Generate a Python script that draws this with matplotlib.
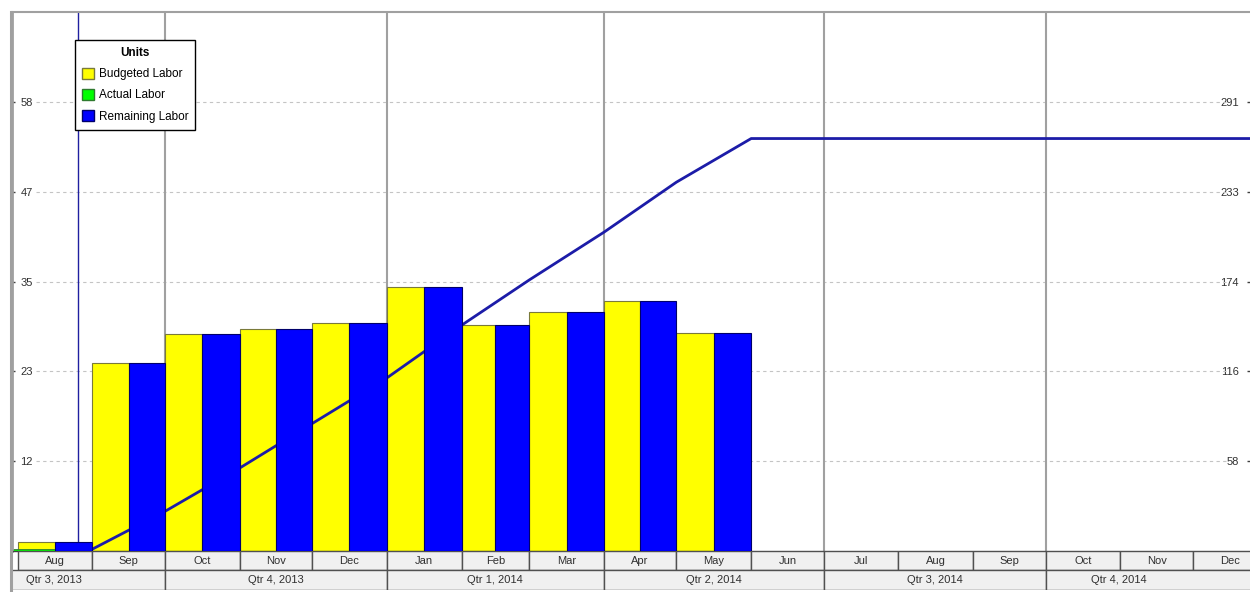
import matplotlib.pyplot as plt
import matplotlib.dates as mdates
import numpy as np
import pandas as pd
from matplotlib.patches import Patch, Rectangle
from matplotlib.lines import Line2D

plt.rcParams['font.family'] = ['Liberation Sans', 'DejaVu Sans']

# monthly labor units (left axis)
bar_months = ['2013-08-01', '2013-09-01', '2013-10-01', '2013-11-01', '2013-12-01',
              '2014-01-01', '2014-02-01', '2014-03-01', '2014-04-01', '2014-05-01']
budgeted_labor = [1.2, 24.4, 28.1, 28.8, 29.6, 34.2, 29.3, 31.0, 32.4, 28.3]
remaining_labor = [1.2, 24.4, 28.1, 28.8, 29.6, 34.2, 29.3, 31.0, 32.4, 28.3]
actual_labor = [0.25]
actual_start = '2013-07-29'
data_date = '2013-08-26'

# axis ticks
left_ticks = [11.64, 23.28, 34.92, 46.56, 58.2]
left_labels = ['12', '23', '35', '47', '58']
right_ticks = [58.2, 116.4, 174.6, 232.8, 291.0]
right_labels = ['58', '116', '174', '233', '291']
left_max = 69.86
right_scale = 5.0   # cumulative axis units per left axis unit

# timescale
view_start = pd.Timestamp('2013-07-29 17:00')
view_end = pd.Timestamp('2014-12-24 17:00')
scale_finish = pd.Timestamp('2014-12-01')
scale_months = pd.date_range('2013-08-01', '2014-12-01', freq='MS')
quarter_starts = ['2013-07-01', '2013-10-01', '2014-01-01', '2014-04-01', '2014-07-01', '2014-10-01']
quarter_labels = ['Qtr 3, 2013', 'Qtr 4, 2013', 'Qtr 1, 2014', 'Qtr 2, 2014', 'Qtr 3, 2014', 'Qtr 4, 2014']

YELLOW, YELLOW_EDGE = '#ffff00', '#7a7a3a'
GREEN, GREEN_EDGE = '#00ff00', '#2f7a2f'
BLUE, BLUE_EDGE = '#0000ff', '#00006a'
LINE = '#1c1ca8'
GRAY = '#a0a0a0'

W, H = 1250, 592
fig = plt.figure(figsize=(W / 100, H / 100), dpi=100)
ax = fig.add_axes([12 / W, 41 / H, 1238 / W, 539 / H])
hdr = fig.add_axes([12 / W, 2 / H, 1238 / W, 39 / H])

x0 = mdates.date2num(view_start)
x1 = mdates.date2num(view_end)

# bars: budgeted in the first half of each month, remaining in the second
starts = pd.to_datetime(bar_months)
ends = starts + pd.offsets.MonthBegin(1)
s_num = mdates.date2num(starts)
half = (mdates.date2num(ends) - s_num) / 2
ax.bar(s_num, budgeted_labor, width=half, align='edge', color=YELLOW,
       edgecolor=YELLOW_EDGE, linewidth=0.8, zorder=2)
ax.bar(s_num + half, remaining_labor, width=half, align='edge', color=BLUE,
       edgecolor=BLUE_EDGE, linewidth=0.8, zorder=4)
a0 = mdates.date2num(pd.Timestamp(actual_start))
a1 = mdates.date2num(pd.Timestamp(data_date))
ax.bar([a0], actual_labor, width=a1 - a0, align='edge', color=GREEN,
       edgecolor=GREEN_EDGE, linewidth=0.6, zorder=2.5)

# cumulative remaining labor (right axis), flat after the last month
cum = np.cumsum(remaining_labor)
line_x = [mdates.date2num(pd.Timestamp(data_date))] + list(mdates.date2num(ends)) + [x1]
line_y = [0.0] + list(cum) + [cum[-1]]
ax.plot(line_x, np.array(line_y) / right_scale, color=LINE, lw=2, zorder=3,
        solid_capstyle='butt')

# quarter dividers and data date
for q in quarter_starts[1:]:
    ax.axvline(mdates.date2num(pd.Timestamp(q)), color=GRAY, lw=1.5, zorder=1.5)
ax.axvline(mdates.date2num(pd.Timestamp(data_date)), color='#2020a0', lw=1, zorder=1.6)

# dashed grid between the tick labels
for y in left_ticks:
    ax.axhline(y, xmin=0.019, xmax=0.982, color='#c4c4c4', lw=0.8,
               ls=(0, (3, 3)), zorder=0.5)

ax.set_xlim(x0, x1)
ax.set_ylim(0, left_max)
ax.set_xticks([])
ax.set_yticks(left_ticks)
ax.set_yticklabels(left_labels, ha='left')
ax.tick_params(axis='y', direction='in', length=2, width=1, color='#404040',
               pad=-6, labelsize=8, labelcolor='#303030')

sec = ax.secondary_yaxis('right', functions=(lambda v: v * right_scale,
                                             lambda v: v / right_scale))
sec.set_yticks(right_ticks)
sec.set_yticklabels(right_labels, ha='right')
sec.tick_params(axis='y', direction='in', length=2, width=1, color='#404040',
                pad=-8, labelsize=8, labelcolor='#303030')
sec.spines['right'].set_visible(False)

for side in ['right']:
    ax.spines[side].set_visible(False)
ax.spines['top'].set_color(GRAY)
ax.spines['top'].set_linewidth(1.5)
ax.spines['left'].set_color(GRAY)
ax.spines['left'].set_linewidth(2)
ax.spines['bottom'].set_color('#404040')
ax.spines['bottom'].set_linewidth(1)

handles = [Patch(facecolor=YELLOW, edgecolor=YELLOW_EDGE, label='Budgeted Labor'),
           Patch(facecolor=GREEN, edgecolor=GREEN_EDGE, label='Actual Labor'),
           Patch(facecolor=BLUE, edgecolor=BLUE_EDGE, label='Remaining Labor')]
leg = ax.legend(handles=handles, title='Units', loc='upper left',
                bbox_to_anchor=(0.051, 0.948), borderaxespad=0, fontsize=8.5,
                title_fontproperties={'weight': 'bold', 'size': 8.5},
                fancybox=False, framealpha=1, edgecolor='black',
                handlelength=1.0, handleheight=1.0, handletextpad=0.4,
                labelspacing=0.75, borderpad=0.6)
leg.get_frame().set_linewidth(1)
leg.set_zorder(10)

# timescale header: months on top, quarters below
hdr.set_xlim(x0, x1)
hdr.set_ylim(0, 39)
hdr.axis('off')
CELL, CELL_EDGE = '#f0f0f0', '#505050'
for m in scale_months:
    ms = mdates.date2num(m)
    me = mdates.date2num(m + pd.offsets.MonthBegin(1))
    hdr.add_patch(Rectangle((ms, 20), me - ms, 19, facecolor=CELL,
                            edgecolor=CELL_EDGE, lw=1))
    hdr.text((ms + me) / 2, 29.5, m.strftime('%b'), ha='center', va='center',
             fontsize=8, color='#303030')
for q, lab in zip(quarter_starts, quarter_labels):
    qs = pd.Timestamp(q)
    qe = qs + pd.offsets.QuarterBegin(1, startingMonth=1)
    qs_n, qe_n = mdates.date2num(qs), mdates.date2num(qe)
    hdr.add_patch(Rectangle((qs_n, 0), qe_n - qs_n, 20, facecolor=CELL,
                            edgecolor=CELL_EDGE, lw=1))
    c = (mdates.date2num(qs) + mdates.date2num(min(qe, scale_finish))) / 2
    hdr.text(c, 10, lab, ha='center', va='center', fontsize=8, color='#303030')

# gray frame strip on the left edge
fig.add_artist(Line2D([11 / W, 11 / W], [2 / H, 580 / H], color=GRAY, lw=2.2,
                      transform=fig.transFigure))

fig.savefig('out.png', dpi=100)
